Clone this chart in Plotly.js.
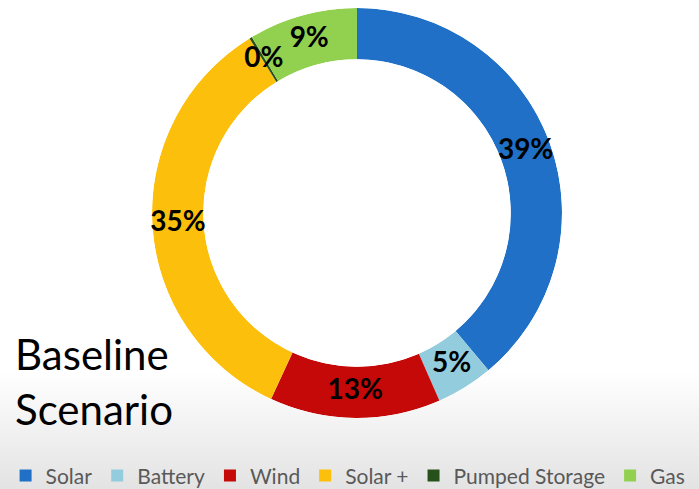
<!DOCTYPE html>
<html>
<head>
<meta charset="utf-8">
<script src="https://cdn.plot.ly/plotly-3.0.1.min.js"></script>
<style>
  html, body { margin: 0; padding: 0; }
  body { width: 699px; height: 489px; background: linear-gradient(to bottom, #ffffff 0%, #ffffff 76%, #e3e3e3 100%); }
  #chart { width: 699px; height: 489px; }
</style>
</head>
<body>
<div id="chart"></div>
<script>
// Data
const categories = ["Solar", "Battery", "Wind", "Solar +", "Pumped Storage", "Gas"];
const shares = [39.0, 4.5, 13.5, 34.4, 0.2, 8.6];
const pctLabels = ["39%", "5%", "13%", "35%", "0%", "9%"];
const sliceColors = ["#1f70c6", "#93cddd", "#c50808", "#fcc00c", "#27511a", "#92d050"];
const chartTitle = "Baseline<br>Scenario";

const ringDomain = { x: [0.2175, 0.8040], y: [0.1452, 0.9837] };
const holeFrac = 0.75;

// slice geometry derived from the shares (clockwise from 12 o'clock)
const total = shares.reduce((a, b) => a + b, 0);
let run = 0;
const midAngles = shares.map(v => { const m = (run + v / 2) / total * 360; run += v; return m; });
const sliceWidths = shares.map(v => v / total * 360);

const sliceTraces = categories.map((name, i) => ({
  type: "barpolar",
  name: name,
  r: [1],
  theta: [midAngles[i]],
  width: [sliceWidths[i]],
  marker: { color: sliceColors[i], line: { width: 0 } },
  hoverinfo: "name"
}));

const labelsTrace = {
  type: "scatterpolar",
  mode: "text",
  r: shares.map(() => 0.5),
  theta: midAngles,
  text: pctLabels,
  textposition: "middle center",
  textfont: { family: "Lato, 'Open Sans', sans-serif", size: 28, color: "#000000", weight: "bold" },
  showlegend: false,
  hoverinfo: "skip",
  cliponaxis: false
};

const layout = {
  width: 699,
  height: 489,
  margin: { l: 0, r: 0, t: 0, b: 0, autoexpand: false },
  paper_bgcolor: "rgba(0,0,0,0)",
  plot_bgcolor: "rgba(0,0,0,0)",
  showlegend: true,
  polar: {
    domain: ringDomain,
    hole: holeFrac,
    bgcolor: "rgba(0,0,0,0)",
    angularaxis: { visible: false, rotation: 90, direction: "clockwise", showgrid: false, showline: false },
    radialaxis: { visible: false, range: [0, 1], showgrid: false, showline: false }
  },
  legend: {
    orientation: "h",
    x: 0.008, xanchor: "left",
    y: -0.015, yanchor: "bottom",
    font: { family: "Lato, 'Open Sans', sans-serif", size: 21, color: "#595959" },
    bgcolor: "rgba(0,0,0,0)",
    itemwidth: 30,
    traceorder: "normal"
  },
  annotations: [{
    text: chartTitle,
    xref: "paper", yref: "paper",
    x: 0.018, xanchor: "left",
    y: 0.331, yanchor: "top",
    align: "left",
    showarrow: false,
    font: { family: "Lato, 'Open Sans', sans-serif", size: 42, color: "#000000" }
  }]
};

Plotly.newPlot("chart", sliceTraces.concat([labelsTrace]), layout, { displayModeBar: false, staticPlot: true });
</script>
</body>
</html>
